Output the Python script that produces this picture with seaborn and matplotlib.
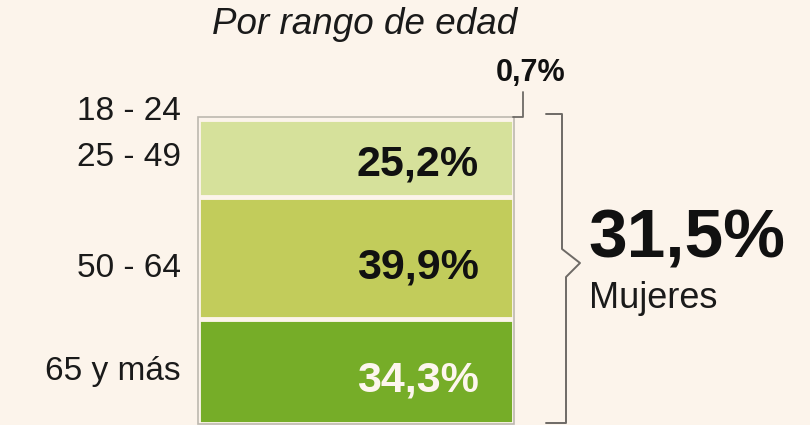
import numpy as np
import pandas as pd
import seaborn as sns
import matplotlib.pyplot as plt

## Data
age_groups = ["18 - 24", "25 - 49", "50 - 64", "65 y más"]
shares = [0.7, 25.2, 39.9, 34.3]
share_labels = ["0,7%", "25,2%", "39,9%", "34,3%"]
seg_colors = ["#e2eab8", "#d6e19b", "#c2cc5b", "#76ad28"]
total_label = "31,5%"
total_name = "Mujeres"
title = "Por rango de edad"

bg = "#fcf4eb"

sns.set_theme(style="white")
plt.rcParams["font.family"] = ["Liberation Sans", "DejaVu Sans"]

W, H = 810, 425
fig = plt.figure(figsize=(W / 100, H / 100), dpi=100, facecolor=bg)

# axes spans exactly the bar: 0% at y=117px, 100% at y=424px
top_px, bot_px = 117, 424
left_px, right_px = 198, 514
ax = fig.add_axes([left_px / W, 1 - bot_px / H,
                   (right_px - left_px) / W, (bot_px - top_px) / H])
ax.set_facecolor(bg)

starts = np.concatenate([[0], np.cumsum(shares)[:-1]])
ends = np.cumsum(shares)
df = pd.DataFrame({"grupo": age_groups, "fin": ends, "col": ["Mujeres"] * 4})

# overlapped cumulative bars -> stacked look (largest drawn first)
sns.barplot(data=df, x="col", y="fin", hue="grupo",
            hue_order=age_groups[::-1], palette=dict(zip(age_groups, seg_colors)),
            dodge=False, width=1, saturation=1, edgecolor=bg, linewidth=3.5,
            legend=False, ax=ax)
# thin grey outline round the whole bar
sns.barplot(x=["Mujeres"], y=[ends[-1]], fill=False, width=1,
            edgecolor="#bdb8b0", linewidth=1.2, ax=ax)

ax.set_xlim(-0.5, 0.5)
ax.set_ylim(100, 0)
ax.axis("off")
for p in ax.patches:
    p.set_clip_on(False)


def fx(px):
    # pixel x -> axes fraction
    return (px - left_px) / (right_px - left_px)


def dy(px):
    # pixel y -> data value
    return (px - top_px) / (bot_px - top_px) * 100


trans = ax.get_yaxis_transform()  # x in axes fraction, y in data

# age labels
for i, (g, s, v) in enumerate(zip(age_groups, starts, shares)):
    yc = s + v * 0.5
    if i == 0:
        yc -= 2.3
    elif i == 2:
        yc += 3.5
    ax.text(fx(181), yc, g, transform=trans, ha="right", va="center",
            fontsize=24, color="#1a1a1a")

# share labels inside bars
txt_colors = [None, "#111111", "#111111", "#fdf6ee"]
for i in range(1, 4):
    yc = starts[i] + shares[i] * 0.58
    ax.text(fx(479), yc, share_labels[i], transform=trans, ha="right",
            va="center", fontsize=31, fontweight="bold", color=txt_colors[i])

# small share on top with hook line
ax.plot([fx(513), fx(523), fx(523)], [0, 0, dy(92)], transform=trans,
        color="#6e6a66", lw=1.3, clip_on=False)
ax.text(fx(531), dy(73), share_labels[0], transform=trans, ha="center",
        va="center", fontsize=22, fontweight="bold", color="#111111")

# curly bracket for the total
bx = [fx(546), fx(562), fx(562), fx(580), fx(566), fx(566), fx(546)]
by = [dy(114), dy(114), dy(249), dy(263), dy(277), dy(423), dy(423)]
ax.plot(bx, by, transform=trans, color="#6e6a66", lw=1.4, clip_on=False)

ax.text(fx(588), dy(239), total_label, transform=trans, ha="left",
        va="center", fontsize=50, fontweight="bold", color="#111111")
ax.text(fx(589), dy(298), total_name, transform=trans, ha="left",
        va="center", fontsize=26, color="#1a1a1a")

fig.text(365 / W, 1 - 25 / H, title, ha="center", va="center",
         fontsize=26.5, fontstyle="italic", color="#1a1a1a")

fig.savefig("out.png", dpi=100, facecolor=bg)
